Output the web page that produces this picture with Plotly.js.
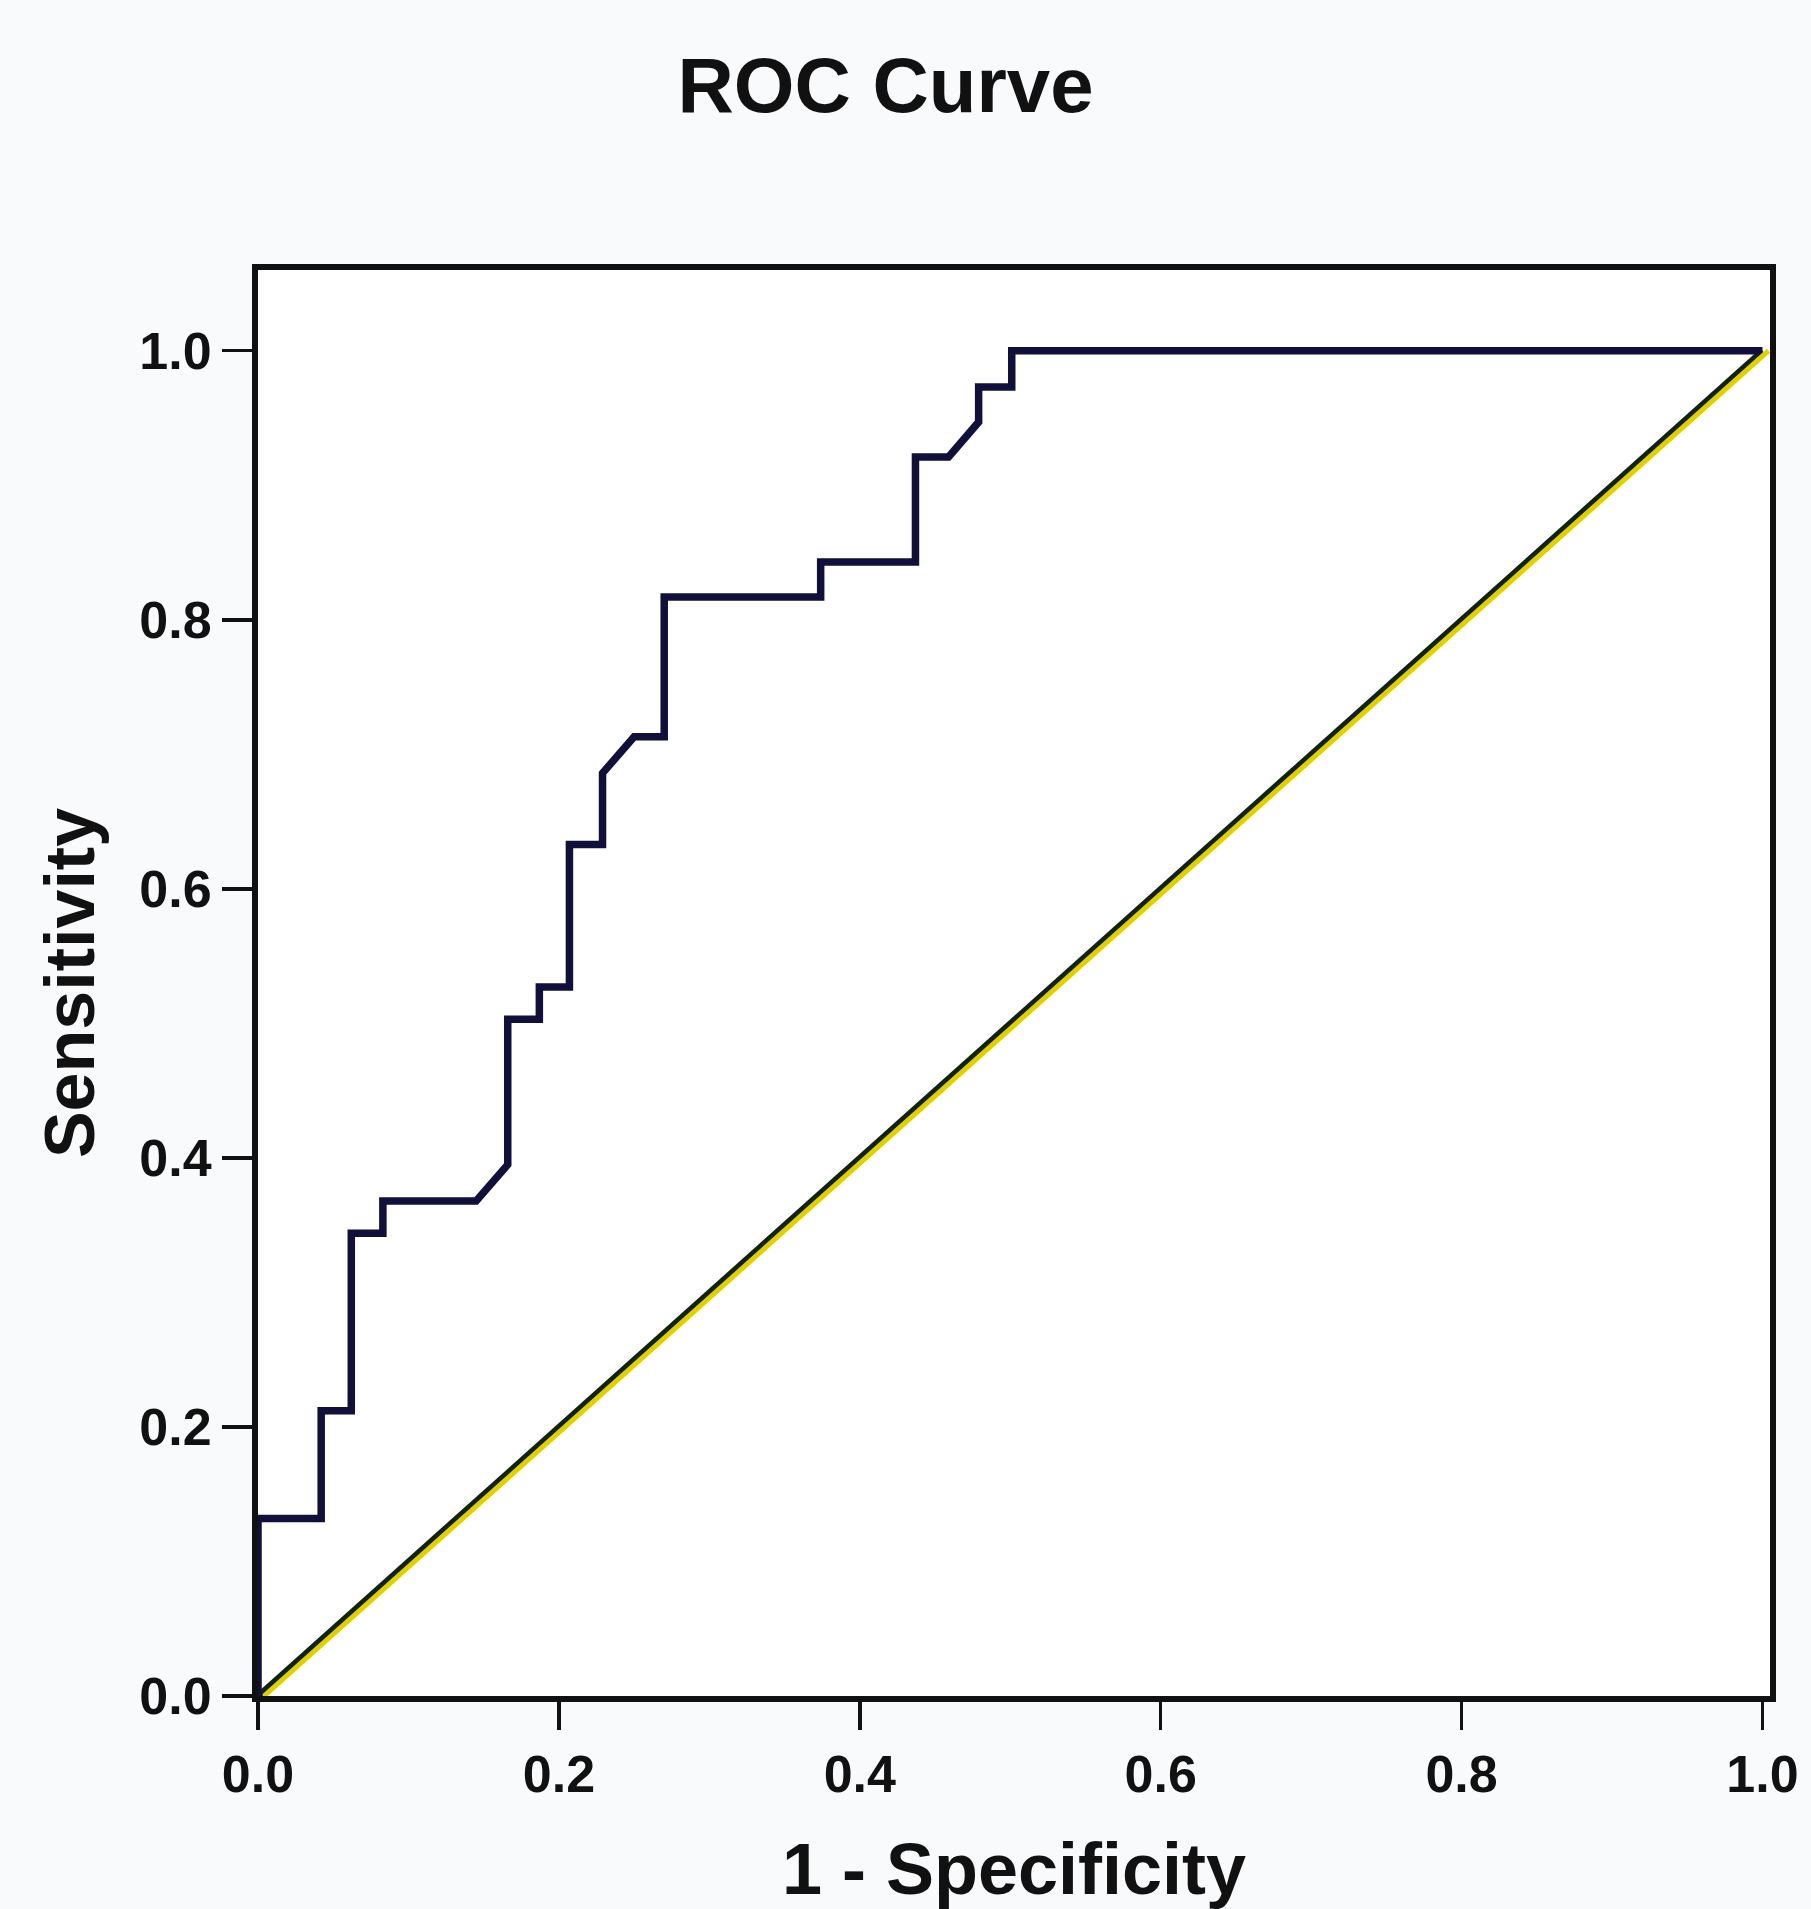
<!DOCTYPE html>
<html>
<head>
<meta charset="utf-8">
<script src="https://cdn.plot.ly/plotly-3.0.1.min.js"></script>
<style>
  html, body { margin: 0; padding: 0; background: #f9fafc; }
  #chart { width: 1811px; height: 1909px; }
</style>
</head>
<body>
<div id="chart"></div>
<script>
// ROC curve: 1 - Specificity (x) and Sensitivity (y)
const rocFpr = [0, 0, 0.042, 0.042, 0.062, 0.062, 0.083, 0.083, 0.145, 0.166,
                0.166, 0.187, 0.187, 0.207, 0.207, 0.229, 0.229, 0.250, 0.270, 0.270,
                0.374, 0.374, 0.437, 0.437, 0.459, 0.479, 0.479, 0.501, 0.501, 1.0];
const rocTpr = [0, 0.132, 0.132, 0.212, 0.212, 0.344, 0.344, 0.368, 0.368, 0.395,
                0.503, 0.503, 0.527, 0.527, 0.633, 0.633, 0.686, 0.713, 0.713, 0.817,
                0.817, 0.843, 0.843, 0.921, 0.921, 0.947, 0.973, 0.973, 1.0, 1.0];
// Reference (chance) diagonal
const refX = [0, 1];
const refY = [0, 1];
// Tick labels
const xTickVals = [0, 0.2, 0.4, 0.6, 0.8, 1.0];
const xTickText = ["0.0", "0.2", "0.4", "0.6", "0.8", "1.0"];
const yTickVals = [0, 0.2, 0.4, 0.6, 0.8, 1.0];
const yTickText = ["0.0", "0.2", "0.4", "0.6", "0.8", "1.0"];

const FONT = "Liberation Sans, Arial, Helvetica, sans-serif";
const INK = "#111111";

const traces = [
  { // yellow edge of the reference line (drawn on a slightly shifted overlay axis)
    x: refX, y: refY, type: "scatter", mode: "lines",
    xaxis: "x2", yaxis: "y",
    line: { color: "#e2cf00", width: 5 },
    hoverinfo: "skip", showlegend: false
  },
  {
    x: refX, y: refY, type: "scatter", mode: "lines",
    line: { color: "#112211", width: 6 },
    hoverinfo: "skip", showlegend: false
  },
  {
    x: rocFpr, y: rocTpr, type: "scatter", mode: "lines",
    line: { color: "#10103a", width: 7.5, shape: "linear" },
    showlegend: false
  }
];

const layout = {
  width: 1811, height: 1909,
  paper_bgcolor: "#f9fafc",
  plot_bgcolor: "#ffffff",
  margin: { l: 258, r: 41, t: 270, b: 213, pad: 0 },
  showlegend: false,
  title: {
    text: "ROC Curve",
    font: { family: FONT, size: 78, color: INK, weight: 700 },
    x: 0.489, xanchor: "center",
    y: 0.9555, yanchor: "middle"
  },
  xaxis: {
    range: [0, 1.005],
    tickvals: xTickVals, ticktext: xTickText,
    ticks: "outside", ticklen: 28, tickwidth: 3.5, tickcolor: INK,
    showline: true, linewidth: 6, linecolor: INK, mirror: true,
    showgrid: false, zeroline: false,
    tickfont: { family: FONT, size: 52, color: INK, weight: 700 },
    title: {
      text: "1 - Specificity",
      font: { family: FONT, size: 72, color: INK, weight: 700 },
      standoff: 48
    },
    automargin: false, fixedrange: true
  },
  xaxis2: {
    overlaying: "x",
    range: [-0.004, 1.001],
    visible: false, showgrid: false, zeroline: false, fixedrange: true
  },
  yaxis: {
    range: [0, 1.06],
    tickvals: yTickVals, ticktext: yTickText,
    ticks: "outside", ticklen: 30, tickwidth: 3.5, tickcolor: INK,
    showline: true, linewidth: 6, linecolor: INK, mirror: true,
    showgrid: false, zeroline: false,
    tickfont: { family: FONT, size: 52, color: INK, weight: 700 },
    title: {
      text: "Sensitivity",
      font: { family: FONT, size: 70, color: INK, weight: 700 },
      standoff: 24
    },
    automargin: false, fixedrange: true
  }
};

Plotly.newPlot("chart", traces, layout, { displayModeBar: false, staticPlot: true });
</script>
</body>
</html>
